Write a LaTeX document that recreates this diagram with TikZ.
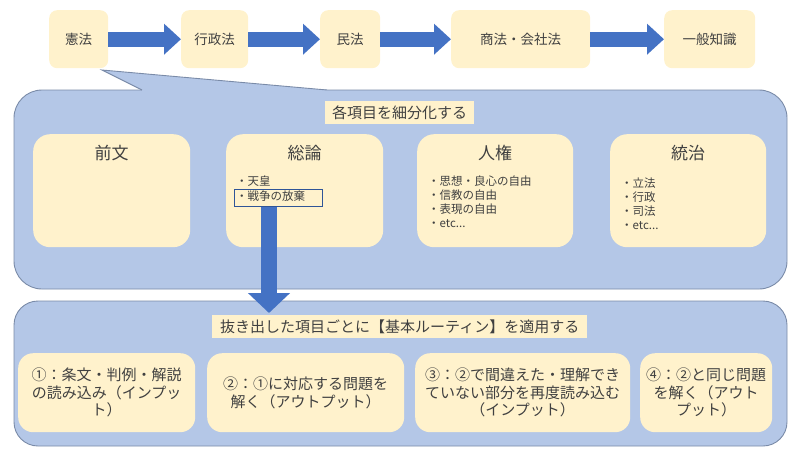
\documentclass[tikz,border=0pt]{standalone}
\usepackage{fontspec}
\setmainfont{Noto Sans CJK JP}
\usetikzlibrary{arrows.meta,calc}
\definecolor{cream}{HTML}{FFF2CC}
\definecolor{callfill}{HTML}{B4C7E7}
\definecolor{callbord}{HTML}{7A8BA8}
\definecolor{arrblue}{HTML}{4472C4}
\definecolor{txt}{HTML}{404040}
\definecolor{hlbord}{HTML}{2F5597}
\begin{document}
\begin{tikzpicture}[x=1pt,y=-1pt,
  topbox/.style={fill=cream, rounded corners=8pt, inner sep=0pt, anchor=north west, minimum height=58pt, text=txt, font=\fontsize{13.5}{16}\selectfont},
  subbox/.style={fill=cream, rounded corners=17pt, inner sep=0pt, anchor=north west, minimum height=113pt},
  botbox/.style={fill=cream, rounded corners=15pt, inner sep=0pt, anchor=north west, minimum height=79pt, text=txt, align=center, font=\fontsize{15}{17.5}\selectfont},
  subtitle/.style={text=txt, font=\fontsize{17}{20}\selectfont, inner sep=0pt},
  items/.style={text=txt, font=\fontsize{11.5}{14}\selectfont, align=left, anchor=north west, inner sep=0pt},
  banner/.style={fill=cream, text=txt, font=\fontsize{15}{18}\selectfont, inner sep=0pt, anchor=north west, minimum height=23pt},
  bigbox/.style={fill=callfill, draw=callbord, line width=0.9pt, rounded corners=28pt},
  toparr/.style={draw=arrblue, line width=15pt, -{Triangle[length=17pt,width=30pt]}},
  downarr/.style={draw=arrblue, line width=16pt, -{Triangle[length=20pt,width=41pt]}}
]
\useasboundingbox (0,0) rectangle (800,450);

% top row
\node[topbox, minimum width=59pt] (ken) at (49,10) {憲法};
\node[topbox, minimum width=67pt] (gyo) at (181,10) {行政法};
\node[topbox, minimum width=60pt] (min) at (320,10) {民法};
\node[topbox, minimum width=139pt] (sho) at (451,10) {商法・会社法};
\node[topbox, minimum width=91pt] (ipp) at (664,10) {一般知識};
\draw[toparr] (ken.east) -- (gyo.west);
\draw[toparr] (gyo.east) -- (min.west);
\draw[toparr] (min.east) -- (sho.west);
\draw[toparr] (sho.east) -- (ipp.west);

% callout
\path[bigbox] (14,90) rectangle (787,289);
\fill[callfill] (102,70) -- (142,90) -- (142,95) -- (327,95) -- (327,90) -- cycle;
\draw[callbord, line width=0.9pt, line join=miter] (142,90) -- (102,70) -- (327,90);
\node[banner, minimum width=149pt] (ban1) at (325,101) {各項目を細分化する};

\node[subbox, minimum width=157pt] (zen) at (33,134) {};
\node[subbox, minimum width=157pt] (sou) at (226,134) {};
\node[subbox, minimum width=156pt] (jin) at (417,134) {};
\node[subbox, minimum width=156pt] (tou) at (610,134) {};
\node[subtitle] (zent) at (zen.north |- 0,153) {前文};
\node[subtitle] (sout) at (sou.north |- 0,153) {総論};
\node[subtitle] (jint) at (jin.north |- 0,153) {人権};
\node[subtitle] (tout) at (tou.north |- 0,153) {統治};

\node[items] (soui) at (236,176) {・天皇};
\node[draw=hlbord, line width=1.1pt, fill=cream, minimum width=88pt, minimum height=17pt, inner sep=0pt, anchor=north west] (hl) at (234,189) {};
\node[items] (souj) at (236,190.5) {・戦争の放棄};
\node[items] (jini) at (428,176) {・思想・良心の自由\\・信教の自由\\・表現の自由\\・etc...};
\node[items] (toui) at (621,178) {・立法\\・行政\\・司法\\・etc...};

% bottom
\path[bigbox, rounded corners=24pt] (14,301) rectangle (787,446);
\coordinate (tip) at (269,313);
\draw[downarr] (hl.south -| tip) -- (tip);
\node[banner, minimum width=375pt] (ban2) at (212,315) {抜き出した項目ごとに【基本ルーティン】を適用する};

\node[botbox, minimum width=177pt] (b1) at (18,353) {①：条文・判例・解説\\の読み込み（インプッ\\ト）};
\node[botbox, minimum width=197pt] (b2) at (207,353) {②：①に対応する問題を\\解く（アウトプット）};
\node[botbox, minimum width=215pt] (b3) at (415,353) {③：②で間違えた・理解でき\\ていない部分を再度読み込む\\（インプット）};
\node[botbox, minimum width=132pt] (b4) at (640,353) {④：②と同じ問題\\を解く（アウト\\プット）};
\end{tikzpicture}
\end{document}
